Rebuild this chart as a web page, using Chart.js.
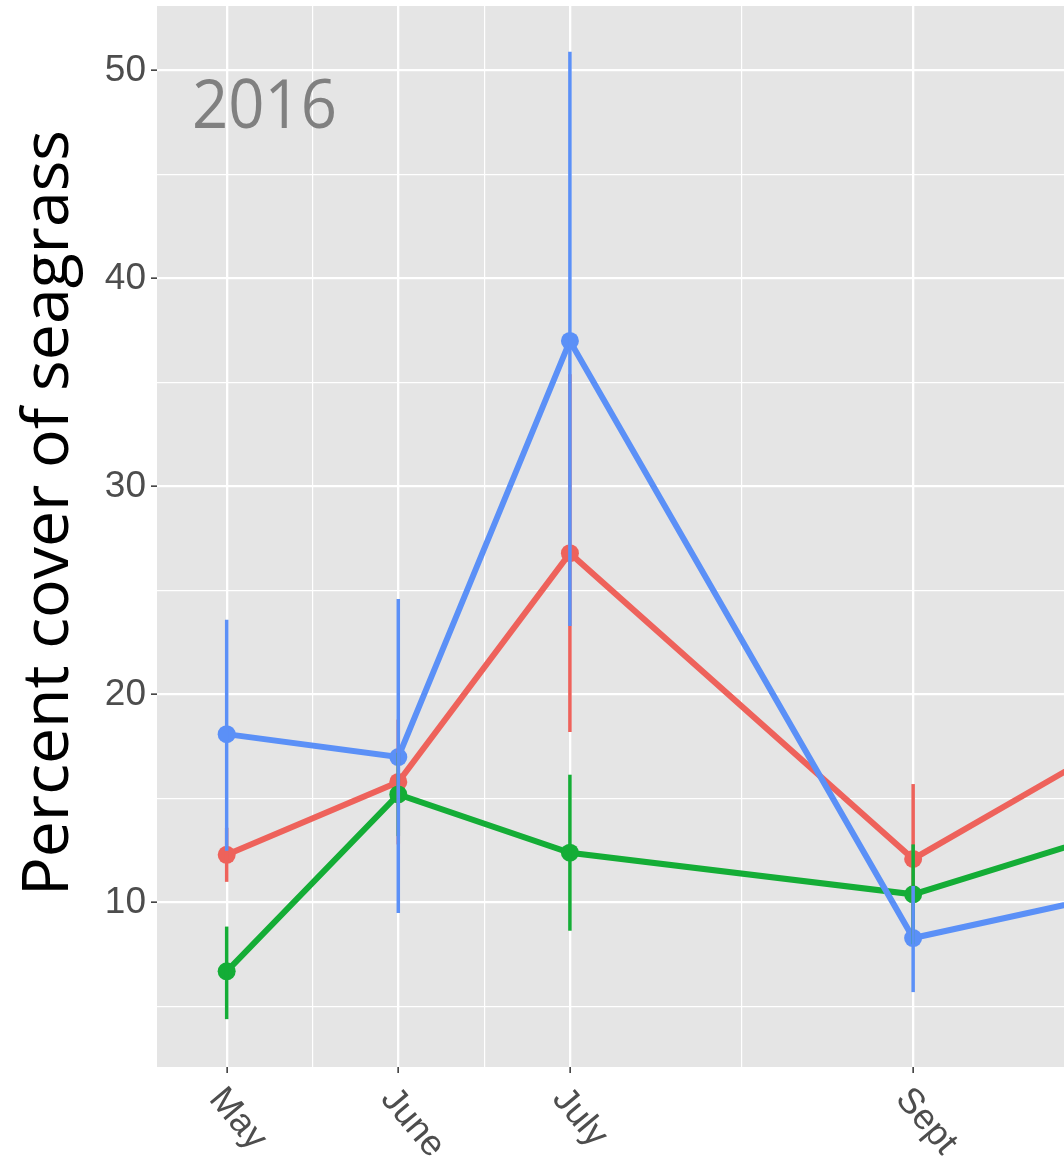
<!DOCTYPE html>
<html>
<head>
<meta charset="utf-8">
<script src="https://cdn.jsdelivr.net/npm/chart.js@4.4.1/dist/chart.umd.min.js"></script>
<style>
  html, body { margin: 0; padding: 0; background: #ffffff; overflow: hidden; width: 1064px; height: 1163px; }
  /* Chart.js keeps room for the point radius around the plot; the canvas is
     slightly larger than the page and shifted so the panel meets the edges */
  canvas { display: block; margin-top: -3px; }
</style>
</head>
<body>
<canvas id="c" width="1073" height="1166"></canvas>
<script>
// Survey months (month number in 2016) for each sampling visit
const surveyMonths = [5, 6, 7, 9, 11];
const tickMonths = [5, 6, 7, 9];
const tickLabels = ['May', 'June', 'July', 'Sept'];
const minorMonths = [5.5, 6.5, 8];
const yMajorTicks = [10, 20, 30, 40, 50];
const yMinorTicks = [5, 15, 25, 35, 45];

// Mean percent cover with lower / upper error bounds, one series per site group
const redMean  = [12.3, 15.8, 26.8, 12.1, 21.6];
const redLow   = [11.0, 12.8, 18.2,  8.4, 17.0];
const redHigh  = [13.6, 18.8, 35.4, 15.7, 26.2];

const greenMean = [6.7, 15.2, 12.4, 10.4, 15.5];
const greenLow  = [4.4, 13.2,  8.65, 8.0, 12.5];
const greenHigh = [8.85, 17.2, 16.15, 12.8, 18.5];

const blueMean = [18.1, 17.0, 37.0,  8.3, 11.9];
const blueLow  = [12.5,  9.5, 23.3,  5.7,  8.5];
const blueHigh = [23.6, 24.6, 50.9, 10.8, 15.3];

const yTitle = 'Percent cover of seagrass';
const yearLabel = '2016';

const RED = '#EE625B';
const GREEN = '#14AD36';
const BLUE = '#5B90F7';

const series = [
  { color: RED,   mean: redMean,   low: redLow,   high: redHigh,   order: 3 },
  { color: GREEN, mean: greenMean, low: greenLow, high: greenHigh, order: 2 },
  { color: BLUE,  mean: blueMean,  low: blueLow,  high: blueHigh,  order: 1 }
];

const PANEL = '#E5E5E5';
const TEXT = '#4D4D4D';
const TICK = '#333333';

const isMajorX = v => tickMonths.includes(v);
const isMajorY = v => yMajorTicks.includes(v);

// Grey panel behind the grid
const panelBackground = {
  id: 'panelBackground',
  beforeDraw(chart) {
    const { ctx, chartArea: a } = chart;
    ctx.save();
    ctx.fillStyle = PANEL;
    ctx.fillRect(a.left, a.top, a.right - a.left, a.bottom - a.top);
    ctx.restore();
  }
};

// Vertical error bars, drawn over the lines and points
const errorBars = {
  id: 'errorBars',
  afterDatasetsDraw(chart) {
    const { ctx, chartArea: a, scales: { x, y } } = chart;
    ctx.save();
    ctx.beginPath();
    ctx.rect(a.left, a.top, a.right - a.left, a.bottom - a.top);
    ctx.clip();
    ctx.lineWidth = 3.5;
    ctx.lineCap = 'butt';
    series.forEach(s => {
      ctx.strokeStyle = s.color;
      surveyMonths.forEach((m, i) => {
        const px = x.getPixelForValue(m);
        ctx.beginPath();
        ctx.moveTo(px, y.getPixelForValue(s.low[i]));
        ctx.lineTo(px, y.getPixelForValue(s.high[i]));
        ctx.stroke();
      });
    });
    ctx.restore();
  }
};

// Rotated month labels, axis title and the year tag
const annotations = {
  id: 'annotations',
  afterDraw(chart) {
    const { ctx, chartArea: a, scales: { x } } = chart;
    ctx.save();
    ctx.fillStyle = TEXT;
    ctx.font = '36px "Liberation Sans", Arial, sans-serif';
    ctx.textAlign = 'left';
    ctx.textBaseline = 'middle';
    tickMonths.forEach((m, i) => {
      const px = x.getPixelForValue(m);
      ctx.save();
      ctx.translate(px - 11, a.bottom + 26);
      ctx.rotate(50 * Math.PI / 180);
      ctx.fillText(tickLabels[i], 0, 0);
      ctx.restore();
    });

    // y-axis title, centred a little above the panel middle
    ctx.save();
    ctx.fillStyle = '#000000';
    ctx.font = '64px "Open Sans", "Noto Sans", sans-serif';
    const tw = ctx.measureText(yTitle).width;
    ctx.translate(68, a.top + 507);
    ctx.rotate(-Math.PI / 2);
    ctx.scale(766 / tw, 1);
    ctx.textAlign = 'center';
    ctx.textBaseline = 'alphabetic';
    ctx.fillText(yTitle, 0, 0);
    ctx.restore();

    // year tag inside the panel
    ctx.save();
    ctx.fillStyle = '#808080';
    ctx.font = '67px "Open Sans", "Noto Sans", sans-serif';
    const yw = ctx.measureText(yearLabel).width;
    ctx.translate(a.left + 35, a.top + 122);
    ctx.scale(145 / yw, 1);
    ctx.textAlign = 'left';
    ctx.textBaseline = 'alphabetic';
    ctx.fillText(yearLabel, 0, 0);
    ctx.restore();

    ctx.restore();
  }
};

const datasets = series.map(s => ({
  data: surveyMonths.map((m, i) => ({ x: m, y: s.mean[i] })),
  borderColor: s.color,
  backgroundColor: s.color,
  pointBackgroundColor: s.color,
  pointBorderWidth: 0,
  pointRadius: 9,
  borderWidth: 6,
  tension: 0,
  order: s.order,
  clip: 0
}));

new Chart(document.getElementById('c'), {
  type: 'line',
  data: { datasets },
  options: {
    responsive: false,
    devicePixelRatio: 1,
    animation: false,
    layout: { padding: { top: 9, right: 9, bottom: 0, left: 0 } },
    plugins: { legend: { display: false }, tooltip: { enabled: false } },
    scales: {
      x: {
        type: 'linear',
        position: 'bottom',
        min: 4.594,
        max: 9.879,
        border: { display: false },
        grid: {
          color: '#FFFFFF',
          lineWidth: c => (c.tick && isMajorX(c.tick.value)) ? 2.3 : 1.2,
          drawTicks: true,
          tickLength: 6,
          tickWidth: 1.5,
          tickColor: c => (c.tick && isMajorX(c.tick.value)) ? TICK : 'rgba(0,0,0,0)'
        },
        ticks: { display: false },
        afterBuildTicks: scale => {
          scale.ticks = [...tickMonths, ...minorMonths].sort((p, q) => p - q).map(v => ({ value: v }));
        },
        afterFit: scale => {
          scale.height = 96;
          scale.paddingLeft = 0;
          scale.paddingRight = 0;
        }
      },
      y: {
        type: 'linear',
        min: 2.1,
        max: 53.1,
        border: { display: false },
        grid: {
          color: '#FFFFFF',
          lineWidth: c => (c.tick && isMajorY(c.tick.value)) ? 2.3 : 1.2,
          drawTicks: true,
          tickLength: 6,
          tickWidth: 1.5,
          tickColor: c => (c.tick && isMajorY(c.tick.value)) ? TICK : 'rgba(0,0,0,0)'
        },
        ticks: {
          color: TEXT,
          padding: 5,
          font: { family: '"Liberation Sans", Arial, sans-serif', size: 37 },
          callback: v => isMajorY(v) ? String(v) : ''
        },
        afterBuildTicks: scale => {
          scale.ticks = [...yMinorTicks, ...yMajorTicks].sort((p, q) => p - q).map(v => ({ value: v }));
        },
        afterFit: scale => {
          scale.width = 157;
          scale.paddingTop = 0;
          scale.paddingBottom = 0;
        }
      }
    }
  },
  plugins: [panelBackground, errorBars, annotations]
});
</script>
</body>
</html>
